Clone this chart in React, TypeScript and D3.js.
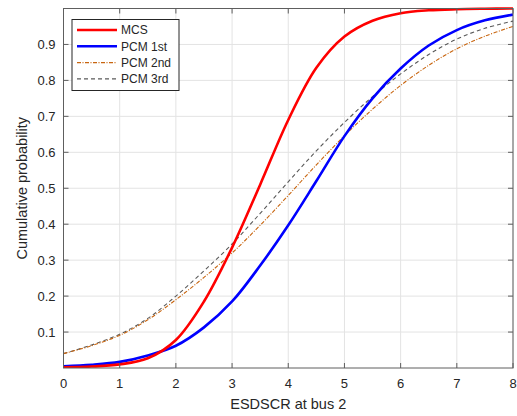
import React from 'react';
import * as d3 from 'd3';

// values
const xs = [0, 0.5, 1, 1.5, 2, 2.5, 3, 3.5, 4, 4.5, 5, 5.5, 6, 6.5, 7, 7.5, 8];
const mcs = [0.002, 0.004, 0.01, 0.027, 0.078, 0.185, 0.335, 0.51, 0.69, 0.835, 0.922, 0.966, 0.987, 0.995, 0.998, 0.9993, 1.0];
const pcm1 = [0.005, 0.009, 0.017, 0.035, 0.062, 0.113, 0.185, 0.285, 0.397, 0.52, 0.645, 0.75, 0.833, 0.897, 0.94, 0.967, 0.983];
const pcm2 = [0.04, 0.062, 0.091, 0.134, 0.19, 0.252, 0.32, 0.397, 0.48, 0.565, 0.646, 0.72, 0.786, 0.842, 0.888, 0.923, 0.95];
const pcm3 = [0.04, 0.064, 0.094, 0.138, 0.2, 0.27, 0.345, 0.43, 0.518, 0.604, 0.683, 0.755, 0.818, 0.872, 0.915, 0.945, 0.965];

const xTicks = [0, 1, 2, 3, 4, 5, 6, 7, 8];
const yTicks = [0.1, 0.2, 0.3, 0.4, 0.5, 0.6, 0.7, 0.8, 0.9];

const series = [
  { name: 'MCS', values: mcs, color: '#ff0000', width: 2.6, dash: '' },
  { name: 'PCM 1st', values: pcm1, color: '#0000ff', width: 2.6, dash: '' },
  { name: 'PCM 2nd', values: pcm2, color: '#c8650f', width: 1.1, dash: '4,1.5,1,1.5' },
  { name: 'PCM 3rd', values: pcm3, color: '#5a5a5a', width: 1.1, dash: '4,3' },
];

const font = '"Liberation Sans", Arial, sans-serif';

export default function App() {
  const left = 63.5, right = 513, top = 8.5, bottom = 368;
  const x = d3.scaleLinear().domain([0, 8]).range([left, right]);
  const y = d3.scaleLinear().domain([0, 1]).range([bottom, top]);

  const line = (vals: number[]) =>
    d3.line<number>()
      .x((_, i) => x(xs[i]))
      .y(d => y(d))
      .curve(d3.curveCatmullRom.alpha(0.5))(vals) as string;

  const axisColor = '#5e5e5e';
  const tick = 5;

  return (
    <svg width={517} height={416} style={{ position: 'absolute', left: 0, top: 0, background: '#fff' }}>
      <rect x={left} y={top} width={right - left} height={bottom - top} fill="#fff" />
      {/* grid */}
      <g stroke="#e3e3e3" strokeWidth={1}>
        {xTicks.map(t => <line key={'gx' + t} x1={x(t)} x2={x(t)} y1={top} y2={bottom} />)}
        {yTicks.map(t => <line key={'gy' + t} x1={left} x2={right} y1={y(t)} y2={y(t)} />)}
      </g>
      {/* curves */}
      <defs>
        <clipPath id="plot">
          <rect x={left} y={top - 2} width={right - left} height={bottom - top + 2} />
        </clipPath>
      </defs>
      <g clipPath="url(#plot)" fill="none">
        {series.slice().reverse().map(s => (
          <path key={s.name} d={line(s.values)} stroke={s.color} strokeWidth={s.width} strokeDasharray={s.dash || undefined} />
        ))}
      </g>
      {/* box and ticks */}
      <g stroke={axisColor} strokeWidth={1} fill="none">
        <rect x={left} y={top} width={right - left} height={bottom - top} />
        {xTicks.map(t => (
          <g key={'tx' + t}>
            <line x1={x(t)} x2={x(t)} y1={bottom} y2={bottom - tick} />
            <line x1={x(t)} x2={x(t)} y1={top} y2={top + tick} />
          </g>
        ))}
        {yTicks.map(t => (
          <g key={'ty' + t}>
            <line x1={left} x2={left + tick} y1={y(t)} y2={y(t)} />
            <line x1={right} x2={right - tick} y1={y(t)} y2={y(t)} />
          </g>
        ))}
      </g>
      <g fontFamily={font} fontSize={13} fill="#262626">
        {xTicks.map(t => (
          <text key={'lx' + t} x={x(t)} y={bottom + 20} textAnchor="middle">{t}</text>
        ))}
        {yTicks.map(t => (
          <text key={'ly' + t} x={left - 8} y={y(t) + 4.5} textAnchor="end">{t.toFixed(1)}</text>
        ))}
      </g>
      <text x={(left + right) / 2} y={409} textAnchor="middle" fontFamily={font} fontSize={14.5} fill="#262626">ESDSCR at bus 2</text>
      <text transform={`translate(27,${(top + bottom) / 2}) rotate(-90)`} textAnchor="middle" fontFamily={font} fontSize={14.5} fill="#262626">Cumulative probability</text>
      {/* legend */}
      <g>
        <rect x={72} y={19.5} width={107} height={71} fill="#fff" stroke="#262626" strokeWidth={1} />
        {series.map((s, i) => (
          <g key={'lg' + s.name} transform={`translate(0,${30 + i * 16.3})`}>
            <line x1={77} x2={117} y1={0} y2={0} stroke={s.color} strokeWidth={s.width} strokeDasharray={s.dash || undefined} />
            <text x={121} y={4.3} fontFamily={font} fontSize={12} fill="#262626">{s.name}</text>
          </g>
        ))}
      </g>
    </svg>
  );
}
